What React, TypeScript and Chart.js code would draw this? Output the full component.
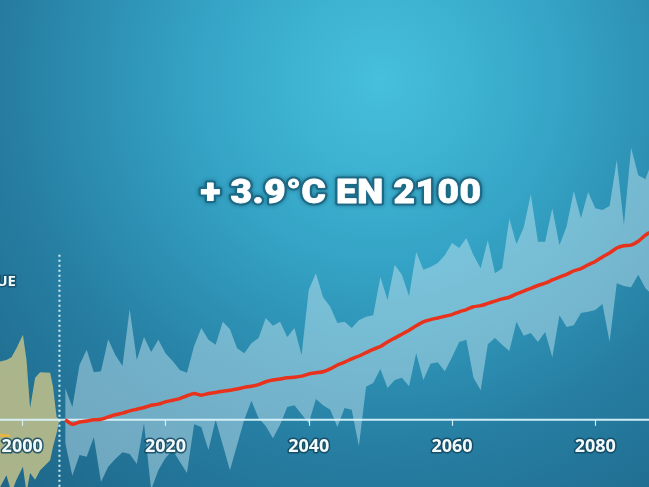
import React, { useEffect, useRef } from "react";
import { Chart, registerables } from "chart.js";

Chart.register(...registerables);

// ---------- DATA ----------
const tickYears = [2000, 2020, 2040, 2060, 2080];
const titleText = "+ 3.9°C EN 2100";
const historicLabel = "HISTORIQUE";
const projectionStartYear = 2005.2;

const histYears = [1996.5, 1997.8, 1998.5, 1999.2, 2000.1, 2000.6, 2001.1, 2001.8, 2002.5, 2003.9, 2004.3, 2004.8, 2005.2];
const histUpper = [1.03, 1.07, 1.12, 1.28, 1.52, 1.07, 0.21, 0.75, 0.85, 0.84, 0.59, 0.05, 0.0];
const histLower = [-1.3, -0.99, -1.3, -1.07, -0.84, -1.3, -0.95, -1.07, -0.9, -0.72, -0.48, -0.24, 0.0];

const obsYears = [1996.5, 1998.3];
const obsValues = [-0.27, -0.29];

const projYears = [
  2006, 2007, 2008, 2009, 2010, 2011, 2012, 2013, 2014, 2015,
  2016, 2017, 2018, 2019, 2020, 2021, 2022, 2023, 2024, 2025,
  2026, 2027, 2028, 2029, 2030, 2031, 2032, 2033, 2034, 2035,
  2036, 2037, 2038, 2039, 2040, 2041, 2042, 2043, 2044, 2045,
  2046, 2047, 2048, 2049, 2050, 2051, 2052, 2053, 2054, 2055,
  2056, 2057, 2058, 2059, 2060, 2061, 2062, 2063, 2064, 2065,
  2066, 2067, 2068, 2069, 2070, 2071, 2072, 2073, 2074, 2075,
  2076, 2077, 2078, 2079, 2080, 2081, 2082, 2083, 2084, 2085,
  2086, 2087, 2088,
];
const projUpper = [
  0.57, 0.23, 0.98, 1.25, 0.85, 0.87, 1.44, 1.16, 0.96, 1.98,
  1.07, 1.48, 1.21, 1.43, 1.19, 1.05, 0.89, 0.84, 1.32, 1.64,
  1.43, 1.34, 1.75, 1.62, 1.28, 1.19, 1.37, 1.46, 1.82, 1.68,
  1.75, 1.48, 1.64, 1.16, 2.32, 2.62, 2.19, 2.02, 1.73, 1.75,
  1.64, 1.78, 1.84, 1.87, 2.55, 2.14, 2.77, 2.59, 2.21, 3.0,
  2.68, 2.73, 2.8, 2.94, 3.16, 3.07, 3.25, 2.94, 2.71, 3.21,
  2.62, 2.71, 3.59, 3.14, 3.43, 4.03, 3.18, 3.18, 3.78, 3.12,
  3.46, 4.09, 3.6, 4.07, 3.78, 3.75, 3.82, 4.64, 3.48, 4.86,
  4.37, 4.3, 4.64,
];
const projLower = [
  -0.41, -1.0, -0.63, -0.66, -0.31, -1.11, -0.84, -0.7, -0.58, -0.61,
  -0.79, -0.06, -1.25, -0.9, -0.68, -0.54, -0.75, -0.95, -0.08, -0.13,
  -0.54, 0.0, -0.45, -0.9, -0.45, 0.0, 0.34, 0.03, -0.11, -0.33,
  -0.09, 0.23, 0.26, 0.1, -0.06, 0.37, 0.26, 0.18, -0.13, 0.21,
  0.18, -0.47, 0.59, 0.66, 0.91, 0.57, 0.71, 0.75, 0.6, 1.19,
  0.71, 1.0, 1.03, 0.87, 1.12, 1.39, 1.43, 0.75, 0.53, 1.35,
  1.46, 1.34, 1.23, 1.75, 1.5, 1.55, 1.39, 1.57, 1.12, 1.87,
  1.66, 1.69, 1.91, 1.93, 1.96, 2.07, 1.39, 2.44, 2.39, 2.37,
  2.59, 2.35, 2.23,
];
const projMedian = [
  0.0, -0.08, -0.04, -0.02, 0.0, 0.01, 0.05, 0.09, 0.12, 0.16,
  0.19, 0.22, 0.26, 0.28, 0.32, 0.35, 0.38, 0.43, 0.47, 0.44,
  0.47, 0.49, 0.51, 0.53, 0.55, 0.58, 0.6, 0.63, 0.68, 0.71,
  0.73, 0.75, 0.76, 0.78, 0.82, 0.84, 0.86, 0.91, 0.98, 1.03,
  1.09, 1.14, 1.2, 1.26, 1.31, 1.39, 1.46, 1.53, 1.6, 1.68,
  1.75, 1.79, 1.82, 1.85, 1.88, 1.93, 1.97, 2.02, 2.04, 2.08,
  2.12, 2.16, 2.19, 2.25, 2.3, 2.35, 2.4, 2.44, 2.5, 2.55,
  2.6, 2.66, 2.7, 2.77, 2.83, 2.91, 2.98, 3.07, 3.11, 3.12,
  3.19, 3.3, 3.37,
];

const X_MIN = 1996.9;
const X_MAX = 2087.5;
const Y_MIN = -1.2;
const Y_MAX = 7.5;

const W = 649;
const H = 487;

function pts(xs: number[], ys: number[]) {
  return xs.map((x, i) => ({ x, y: ys[i] }));
}

const backgroundPlugin = {
  id: "bgGradient",
  beforeDraw(chart: any) {
    const { ctx, width, height } = chart;
    ctx.save();
    const g = ctx.createRadialGradient(380, 80, 0, 380, 80, 600);
    g.addColorStop(0, "#46c0dc");
    g.addColorStop(0.3, "#35a4c6");
    g.addColorStop(0.62, "#267ea2");
    g.addColorStop(1, "#1b6082");
    ctx.fillStyle = g;
    ctx.fillRect(0, 0, width, height);
    ctx.restore();
  },
};

const overlayPlugin = {
  id: "overlay",
  beforeDatasetDraw(chart: any, args: any) {
    // baseline (value 0) drawn above the bands, beneath the median line
    if (args.index !== 4) return;
    const { ctx } = chart;
    const xs = chart.scales.x;
    const ys = chart.scales.y;
    const y0 = ys.getPixelForValue(0);
    ctx.save();
    ctx.strokeStyle = "rgba(215,242,250,0.95)";
    ctx.lineWidth = 2;
    ctx.beginPath();
    ctx.moveTo(chart.chartArea.left, y0);
    ctx.lineTo(chart.chartArea.right, y0);
    ctx.stroke();
    ctx.lineWidth = 1.2;
    for (const t of tickYears) {
      const x = Math.round(xs.getPixelForValue(t)) + 0.5;
      ctx.beginPath();
      ctx.moveTo(x, y0);
      ctx.lineTo(x, y0 + 6);
      ctx.stroke();
    }
    ctx.restore();
  },
  afterDatasetsDraw(chart: any) {
    const { ctx } = chart;
    const xs = chart.scales.x;
    const ys = chart.scales.y;
    const y0 = ys.getPixelForValue(0);
    ctx.save();

    // dotted separator between history and projection
    const xd = xs.getPixelForValue(projectionStartYear);
    ctx.strokeStyle = "rgba(225,245,250,0.95)";
    ctx.lineWidth = 2;
    ctx.setLineDash([2, 3]);
    ctx.beginPath();
    ctx.moveTo(xd, ys.getPixelForValue(2.95));
    ctx.lineTo(xd, chart.height);
    ctx.stroke();
    ctx.setLineDash([]);

    // x tick labels
    ctx.font = '700 18px "Open Sans"';
    ctx.textAlign = "center";
    ctx.textBaseline = "middle";
    ctx.lineJoin = "round";
    for (const t of tickYears) {
      const x = xs.getPixelForValue(t);
      ctx.strokeStyle = "rgba(18,70,95,0.85)";
      ctx.lineWidth = 3;
      ctx.strokeText(String(t), x, y0 + 27);
      ctx.fillStyle = "#f2fafc";
      ctx.fillText(String(t), x, y0 + 27);
    }

    // partially hidden historic label
    ctx.font = 'bold 15px "Open Sans"';
    ctx.textAlign = "right";
    ctx.textBaseline = "alphabetic";
    ctx.strokeStyle = "rgba(18,70,95,0.7)";
    ctx.lineWidth = 3;
    ctx.strokeText(historicLabel, 16, 286);
    ctx.fillStyle = "#f2fafc";
    ctx.fillText(historicLabel, 16, 286);

    // title, stretched horizontally to the reference width
    ctx.font = '900 33px Roboto';
    (ctx as any).letterSpacing = "0.5px";
    ctx.textAlign = "center";
    ctx.textBaseline = "alphabetic";
    const measured = ctx.measureText(titleText).width;
    const sx = 281 / measured;
    ctx.translate(341, 203);
    ctx.scale(sx, 1);
    ctx.shadowColor = "rgba(10,50,70,0.45)";
    ctx.shadowBlur = 4;
    ctx.strokeStyle = "#1c6a86";
    ctx.lineWidth = 5;
    ctx.lineJoin = "round";
    ctx.strokeText(titleText, 0, 0);
    ctx.shadowBlur = 0;
    ctx.fillStyle = "#ffffff";
    ctx.fillText(titleText, 0, 0);
    ctx.strokeStyle = "#ffffff";
    ctx.lineWidth = 0.8;
    ctx.strokeText(titleText, 0, 0);
    (ctx as any).letterSpacing = "0px";
    ctx.restore();
  },
};

export default function App() {
  const canvasRef = useRef<HTMLCanvasElement | null>(null);

  useEffect(() => {
    if (!canvasRef.current) return;
    const chart = new Chart(canvasRef.current, {
      type: "line",
      data: {
        datasets: [
          {
            label: "hist-upper",
            data: pts(histYears, histUpper),
            fill: "+1",
            backgroundColor: "rgba(190,190,138,0.88)",
            borderWidth: 0,
            pointRadius: 0,
            tension: 0,
            order: 6,
          },
          {
            label: "hist-lower",
            data: pts(histYears, histLower),
            fill: false,
            borderWidth: 0,
            pointRadius: 0,
            tension: 0,
            order: 5,
          },
          {
            label: "proj-upper",
            data: pts(projYears, projUpper),
            fill: "+1",
            backgroundColor: "rgba(200,232,242,0.47)",
            borderWidth: 0,
            pointRadius: 0,
            tension: 0,
            order: 4,
          },
          {
            label: "proj-lower",
            data: pts(projYears, projLower),
            fill: false,
            borderWidth: 0,
            pointRadius: 0,
            tension: 0,
            order: 3,
          },
          {
            label: "median",
            data: pts(projYears, projMedian),
            fill: false,
            borderColor: "#e8321c",
            borderWidth: 3.5,
            pointRadius: 0,
            tension: 0.2,
            order: 1,
          },
          {
            label: "obs",
            data: pts(obsYears, obsValues),
            fill: false,
            borderColor: "#e9b441",
            borderWidth: 3,
            pointRadius: 0,
            tension: 0,
            order: 2,
          },
        ],
      },
      options: {
        animation: false,
        responsive: false,
        maintainAspectRatio: false,
        devicePixelRatio: 1,
        layout: { padding: 0 },
        events: [],
        scales: {
          x: { type: "linear", min: X_MIN, max: X_MAX, display: false },
          y: { type: "linear", min: Y_MIN, max: Y_MAX, display: false },
        },
        plugins: {
          legend: { display: false },
          tooltip: { enabled: false },
        },
      },
      plugins: [backgroundPlugin, overlayPlugin],
    });
    return () => chart.destroy();
  }, []);

  return (
    <div style={{ position: "fixed", left: 0, top: 0, width: W, height: H }}>
      <canvas ref={canvasRef} width={W} height={H} style={{ display: "block" }} />
    </div>
  );
}
